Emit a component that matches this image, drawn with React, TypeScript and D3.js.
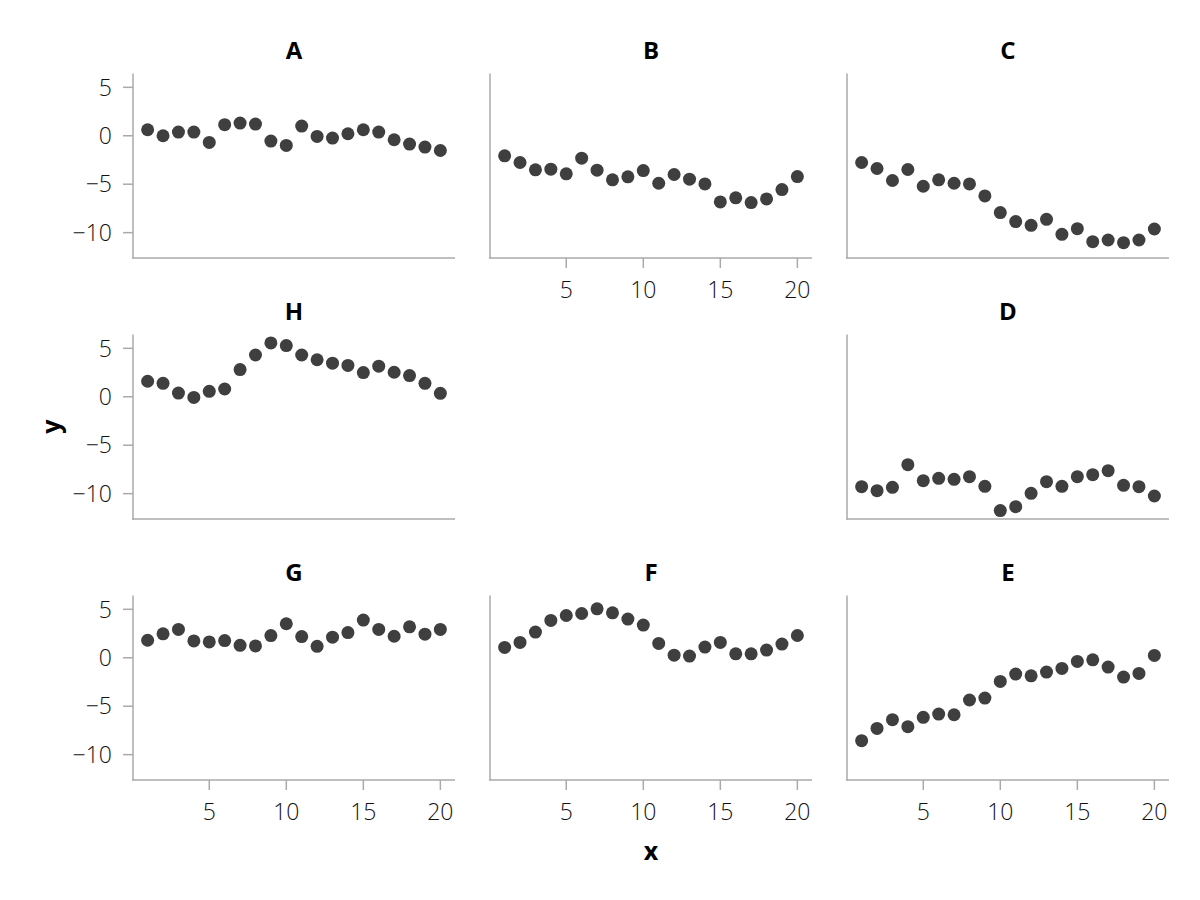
//@ts-nocheck
import { useEffect, useRef } from 'react';
import * as d3 from 'd3';

const xValues = [1, 2, 3, 4, 5, 6, 7, 8, 9, 10, 11, 12, 13, 14, 15, 16, 17, 18, 19, 20];

const seriesA = [0.62, 0.0, 0.38, 0.38, -0.69, 1.14, 1.31, 1.21, -0.55, -1.0, 1.0, -0.07, -0.24, 0.21, 0.62, 0.38, -0.41, -0.86, -1.17, -1.52];
const seriesB = [-2.07, -2.76, -3.52, -3.45, -3.93, -2.31, -3.55, -4.55, -4.24, -3.59, -4.9, -4.0, -4.48, -4.97, -6.83, -6.41, -6.9, -6.52, -5.55, -4.21];
const seriesC = [-2.76, -3.38, -4.62, -3.48, -5.21, -4.55, -4.9, -4.97, -6.21, -7.93, -8.86, -9.24, -8.62, -10.17, -9.59, -10.93, -10.76, -11.03, -10.76, -9.62];
const seriesD = [-9.28, -9.69, -9.35, -7.01, -8.66, -8.42, -8.52, -8.25, -9.24, -11.75, -11.34, -9.97, -8.76, -9.24, -8.25, -8.04, -7.63, -9.14, -9.28, -10.24];
const seriesE = [-8.56, -7.29, -6.39, -7.11, -6.15, -5.81, -5.88, -4.36, -4.16, -2.44, -1.68, -1.86, -1.48, -1.1, -0.38, -0.21, -0.96, -1.99, -1.62, 0.24];
const seriesF = [1.07, 1.58, 2.65, 3.85, 4.36, 4.57, 5.05, 4.64, 3.99, 3.37, 1.48, 0.27, 0.17, 1.1, 1.58, 0.41, 0.41, 0.79, 1.41, 2.3];
const seriesG = [1.81, 2.47, 2.92, 1.74, 1.63, 1.77, 1.28, 1.22, 2.29, 3.51, 2.19, 1.18, 2.12, 2.6, 3.89, 2.92, 2.22, 3.19, 2.43, 2.92];
const seriesH = [1.6, 1.39, 0.38, -0.07, 0.56, 0.8, 2.81, 4.31, 5.56, 5.28, 4.31, 3.82, 3.47, 3.23, 2.5, 3.16, 2.53, 2.19, 1.39, 0.35];

// facet order as laid out in the grid (middle cell is empty)
const panelNames = ['A', 'B', 'C', 'H', 'D', 'G', 'F', 'E'];
const panelSeries = [seriesA, seriesB, seriesC, seriesH, seriesD, seriesG, seriesF, seriesE];
const panelRows = [0, 0, 0, 1, 1, 2, 2, 2];
const panelCols = [0, 1, 2, 0, 2, 0, 1, 2];

const xTicks = [5, 10, 15, 20];
const yTicks = [-10, -5, 0, 5];

const App = () => {
    const svgRef = useRef();

    useEffect(() => {
        const svg = d3.select(svgRef.current);
        svg.selectAll('*').remove();

        const left = 133;
        const top = 73.5;
        const panelW = 322;
        const panelH = 184.5;
        const colGap = 35;
        const rowGap = 76.5;

        const axisColor = '#aaaaaa';
        const dotColor = '#3f3f3f';
        const font = "'Open Sans', 'Noto Sans', sans-serif";

        // shared limits with 5% padding
        const allY = panelSeries.flat();
        const [yMin, yMax] = d3.extent(allY);
        const yPad = (yMax - yMin) * 0.05;
        const [xMin, xMax] = d3.extent(xValues);
        const xPad = (xMax - xMin) * 0.05;

        const colX = (c) => left + c * (panelW + colGap);
        const rowY = (r) => top + r * (panelH + rowGap);

        // a panel gets x tick labels when nothing sits directly below it
        const hasBelow = (r, c) => panelRows.some((rr, j) => rr === r + 1 && panelCols[j] === c);

        panelNames.forEach((name, i) => {
            const r = panelRows[i];
            const c = panelCols[i];
            const x0 = colX(c);
            const y0 = rowY(r);

            const x = d3.scaleLinear().domain([xMin - xPad, xMax + xPad]).range([x0, x0 + panelW]);
            const y = d3.scaleLinear().domain([yMin - yPad, yMax + yPad]).range([y0 + panelH, y0]);

            const g = svg.append('g');

            // panel title
            g.append('text')
                .attr('x', x0 + panelW / 2)
                .attr('y', y0 - 15)
                .attr('text-anchor', 'middle')
                .style('font-family', font)
                .style('font-size', '24px')
                .style('font-weight', 'bold')
                .style('fill', '#000')
                .text(name);

            // spines
            g.append('line')
                .attr('x1', x0).attr('x2', x0)
                .attr('y1', y0).attr('y2', y0 + panelH + 0.75)
                .attr('stroke', axisColor).attr('stroke-width', 1.5);
            g.append('line')
                .attr('x1', x0 - 0.75).attr('x2', x0 + panelW)
                .attr('y1', y0 + panelH).attr('y2', y0 + panelH)
                .attr('stroke', axisColor).attr('stroke-width', 1.5);

            // y ticks only on first column
            if (c === 0) {
                yTicks.forEach(t => {
                    g.append('line')
                        .attr('x1', x0 - 10).attr('x2', x0)
                        .attr('y1', y(t)).attr('y2', y(t))
                        .attr('stroke', axisColor).attr('stroke-width', 1.5);
                    g.append('text')
                        .attr('x', x0 - 21)
                        .attr('y', y(t))
                        .attr('dy', '0.36em')
                        .attr('text-anchor', 'end')
                        .style('font-family', font)
                        .style('font-size', '23px')
                        .style('font-weight', 300)
                        .style('fill', '#111')
                        .text(String(t).replace('-', '\u2212'));
                });
            }

            if (!hasBelow(r, c)) {
                xTicks.forEach(t => {
                    g.append('line')
                        .attr('x1', x(t)).attr('x2', x(t))
                        .attr('y1', y0 + panelH).attr('y2', y0 + panelH + 10)
                        .attr('stroke', axisColor).attr('stroke-width', 1.5);
                    g.append('text')
                        .attr('x', x(t))
                        .attr('y', y0 + panelH + 40)
                        .attr('text-anchor', 'middle')
                        .style('font-family', font)
                        .style('font-size', '23px')
                        .style('font-weight', 300)
                        .style('fill', '#111')
                        .text(t);
                });
            }

            // points
            g.selectAll('circle')
                .data(panelSeries[i])
                .enter()
                .append('circle')
                .attr('cx', (d, j) => x(xValues[j]))
                .attr('cy', d => y(d))
                .attr('r', 6.5)
                .attr('fill', dotColor);
        });

        // axis labels
        const gridMidX = left + (3 * panelW + 2 * colGap) / 2;
        const gridMidY = top + (3 * panelH + 2 * rowGap) / 2;

        svg.append('text')
            .attr('x', gridMidX)
            .attr('y', 860)
            .attr('text-anchor', 'middle')
            .style('font-family', font)
            .style('font-size', '25px')
            .style('font-weight', 'bold')
            .style('fill', '#000')
            .text('x');

        svg.append('text')
            .attr('transform', `translate(60, ${gridMidY}) rotate(-90)`)
            .attr('text-anchor', 'middle')
            .style('font-family', font)
            .style('font-size', '25px')
            .style('font-weight', 'bold')
            .style('fill', '#000')
            .text('y');
    }, []);

    return (
        <svg ref={svgRef} width={1200} height={900} style={{ position: 'absolute', left: 0, top: 0, background: '#fff' }}></svg>
    );
};

export default App;
